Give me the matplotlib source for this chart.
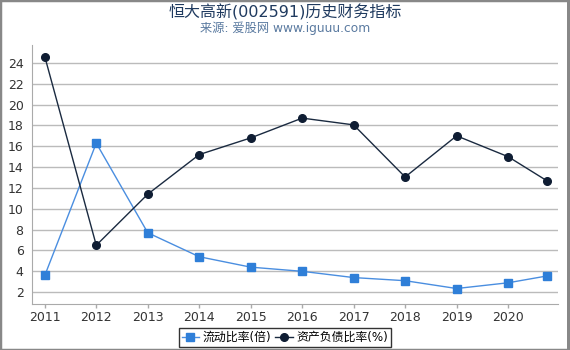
import matplotlib.pyplot as plt
from matplotlib.patches import Rectangle

plt.rcParams['font.family'] = ['DejaVu Sans', 'Noto Sans CJK SC']

# x positions in years; last point is a Q3 report
years = [2011, 2012, 2013, 2014, 2015, 2016, 2017, 2018, 2019, 2020, 2020.75]
year_ticks = [2011, 2012, 2013, 2014, 2015, 2016, 2017, 2018, 2019, 2020]
current_ratio = [3.6, 16.3, 7.7, 5.4, 4.4, 4.0, 3.4, 3.1, 2.35, 2.9, 3.55]
debt_ratio = [24.6, 6.5, 11.4, 15.2, 16.8, 18.7, 18.05, 13.05, 17.0, 15.0, 12.7]

fig = plt.figure(figsize=(5.7, 3.5), dpi=100)
ax = fig.add_axes([0.056, 0.131, 0.923, 0.74])

ax.plot(years, current_ratio, color='#4a8ee0', lw=1, marker='s', ms=5.5,
        mfc='#2f7fd8', mec='#2f7fd8', label='流动比率(倍)', zorder=3)
ax.plot(years, debt_ratio, color='#1a2a40', lw=1, marker='o', ms=5.5,
        mfc='#0f1d33', mec='#0f1d33', label='资产负债比率(%)', zorder=3)

ax.set_xlim(2010.75, 2020.97)
ax.set_ylim(0.85, 25.7)
ax.set_yticks(range(2, 25, 2))
ax.set_xticks(year_ticks)
ax.grid(axis='y', color='#bbbbbb', lw=1)
ax.set_axisbelow(True)
for s in ['top', 'right']:
    ax.spines[s].set_visible(False)
ax.spines['left'].set_color('#aaaaaa')
ax.spines['bottom'].set_color('#aaaaaa')
ax.tick_params(axis='y', length=0, pad=6, labelsize=9, labelcolor='#333333')
ax.tick_params(axis='x', length=3, width=1, color='#aaaaaa', pad=2,
               labelsize=9, labelcolor='#333333')

fig.text(0.5, 0.965, '恒大高新(002591)历史财务指标', ha='center', va='center',
         fontsize=11.5, color='#1f3a5f')
fig.text(0.5, 0.918, '来源: 爱股网 www.iguuu.com', ha='center', va='center',
         fontsize=8.8, color='#5a7aa0')

leg = fig.legend(loc='center', bbox_to_anchor=(0.5, 0.035), ncol=2, fontsize=8.6,
                 frameon=True, fancybox=False, edgecolor='black', handlelength=1.5,
                 handletextpad=0.3, columnspacing=0.3, borderpad=0.25)
leg.get_frame().set_linewidth(1)

# grey frame round the image, heavier on the right
fig.patches.append(Rectangle((0, 0), 1, 1, transform=fig.transFigure, fill=False,
                             edgecolor='#888888', lw=2.5))
fig.patches.append(Rectangle((0.995, 0), 0.005, 1, transform=fig.transFigure,
                             color='#888888', lw=0))

fig.savefig('out.png', dpi=100)
